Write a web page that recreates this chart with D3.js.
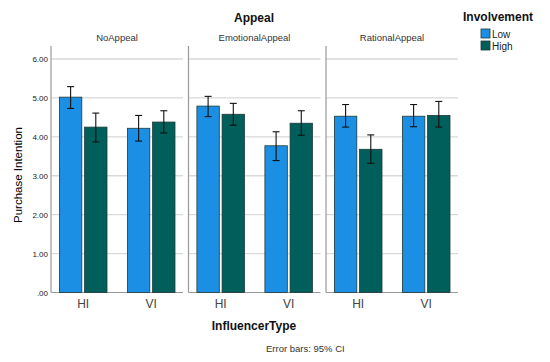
<!DOCTYPE html>
<html>
<head>
<meta charset="utf-8">
<script src="https://cdn.jsdelivr.net/npm/d3@7"></script>
<style>
  body { margin: 0; background: #fff; }
  svg { font-family: Arial, "Liberation Sans", sans-serif; }
</style>
</head>
<body>
<svg id="chart" width="550" height="362"></svg>
<script>
// data
var appeals = ["NoAppeal", "EmotionalAppeal", "RationalAppeal"];
var influencers = ["HI", "VI"];
var involvement = ["Low", "High"];
var colours = ["#1a8fe3", "#005f5a"];
var yTicks = [0, 1, 2, 3, 4, 5, 6];

// mean, ci low, ci high  -- ordered appeal > influencer > involvement
var means = [
  [[5.02, 4.25], [4.22, 4.38]],
  [[4.79, 4.58], [3.77, 4.35]],
  [[4.53, 3.68], [4.53, 4.55]]
];
var ciLow = [
  [[4.73, 3.87], [3.89, 4.10]],
  [[4.52, 4.30], [3.39, 4.04]],
  [[4.25, 3.32], [4.26, 4.25]]
];
var ciHigh = [
  [[5.29, 4.61], [4.55, 4.67]],
  [[5.04, 4.86], [4.13, 4.67]],
  [[4.83, 4.05], [4.83, 4.91]]
];

var svg = d3.select("#chart");

var panelLeft = [51, 188.5, 326];
var panelW = 132;
var y = d3.scaleLinear().domain([0, 6]).range([292.5, 59]);
var topY = 46;
var x0 = d3.scalePoint().domain(influencers).range([32.2, 100.2]);
var x1 = d3.scaleBand().domain(involvement).range([-23.8, 23.8]).paddingInner(0.11);

appeals.forEach(function (ap, i) {
  var g = svg.append("g").attr("transform", "translate(" + panelLeft[i] + ",0)");

  // gridlines
  g.selectAll("line.grid")
    .data(yTicks.slice(1))
    .join("line")
    .attr("x1", 0).attr("x2", panelW)
    .attr("y1", function (d) { return y(d); })
    .attr("y2", function (d) { return y(d); })
    .style("stroke", "#d9d9d9")
    .style("stroke-width", 1.3);

  // axis frame
  g.append("line").attr("x1", 0).attr("x2", 0).attr("y1", topY).attr("y2", y(0))
    .style("stroke", "#999").style("stroke-width", 1.2);
  g.append("line").attr("x1", 0).attr("x2", panelW).attr("y1", y(0)).attr("y2", y(0))
    .style("stroke", "#999").style("stroke-width", 1.2);

  influencers.forEach(function (inf, j) {
    var cx = x0(inf);
    var gx = g.append("g").attr("transform", "translate(" + cx + ",0)");
    var rows = involvement.map(function (inv, k) {
      return { inv: inv, k: k, m: means[i][j][k], lo: ciLow[i][j][k], hi: ciHigh[i][j][k] };
    });
    gx.selectAll("rect")
      .data(rows)
      .join("rect")
      .attr("x", function (d) { return x1(d.inv); })
      .attr("y", function (d) { return y(d.m); })
      .attr("width", x1.bandwidth())
      .attr("height", function (d) { return y(0) - y(d.m); })
      .style("fill", function (d) { return colours[d.k]; })
      .style("stroke", "#203a3a")
      .style("stroke-width", 0.8);

    var eb = gx.selectAll("g.err").data(rows).join("g")
      .attr("transform", function (d) { return "translate(" + (x1(d.inv) + x1.bandwidth() / 2) + ",0)"; });
    eb.append("line").attr("x1", 0).attr("x2", 0)
      .attr("y1", function (d) { return y(d.lo); })
      .attr("y2", function (d) { return y(d.hi); })
      .style("stroke", "#111").style("stroke-width", 1.1);
    eb.append("line").attr("x1", -3.5).attr("x2", 3.5)
      .attr("y1", function (d) { return y(d.lo); })
      .attr("y2", function (d) { return y(d.lo); })
      .style("stroke", "#111").style("stroke-width", 1.1);
    eb.append("line").attr("x1", -3.5).attr("x2", 3.5)
      .attr("y1", function (d) { return y(d.hi); })
      .attr("y2", function (d) { return y(d.hi); })
      .style("stroke", "#111").style("stroke-width", 1.1);

    g.append("text")
      .attr("x", cx).attr("y", 308)
      .attr("text-anchor", "middle")
      .style("font-size", "12px")
      .style("fill", "#444")
      .text(inf);
  });

  g.append("text")
    .attr("x", panelW / 2).attr("y", 41)
    .attr("text-anchor", "middle")
    .style("font-size", "9.5px")
    .style("fill", "#333")
    .text(ap);
});

// y axis labels
svg.selectAll("text.ytick")
  .data(yTicks)
  .join("text")
  .attr("x", 48)
  .attr("y", function (d) { return y(d) + 3; })
  .attr("text-anchor", "end")
  .style("font-size", "8px")
  .style("fill", "#222")
  .text(function (d) { return d === 0 ? ".00" : d3.format(".2f")(d); });

svg.append("text")
  .attr("transform", "translate(22,175) rotate(-90)")
  .attr("text-anchor", "middle")
  .style("font-size", "11.5px")
  .style("fill", "#000")
  .text("Purchase Intention");

svg.append("text")
  .attr("x", 254).attr("y", 22)
  .attr("text-anchor", "middle")
  .style("font-size", "12px")
  .style("font-weight", "bold")
  .style("fill", "#111")
  .text("Appeal");

svg.append("text")
  .attr("x", 254).attr("y", 330)
  .attr("text-anchor", "middle")
  .style("font-size", "12px")
  .style("font-weight", "bold")
  .style("fill", "#111")
  .text("InfluencerType");

svg.append("text")
  .attr("x", 266).attr("y", 352)
  .style("font-size", "9.5px")
  .style("fill", "#333")
  .text("Error bars: 95% CI");

// legend
svg.append("text")
  .attr("x", 463).attr("y", 21)
  .style("font-size", "12px")
  .style("font-weight", "bold")
  .style("fill", "#111")
  .text("Involvement");

var leg = svg.selectAll("g.leg")
  .data(involvement)
  .join("g")
  .attr("transform", function (d, k) { return "translate(481," + (29 + k * 12) + ")"; });
leg.append("rect")
  .attr("width", 9).attr("height", 9)
  .style("fill", function (d, k) { return colours[k]; })
  .style("stroke", "#203a3a")
  .style("stroke-width", 0.8);
leg.append("text")
  .attr("x", 11).attr("y", 8.5)
  .style("font-size", "10px")
  .style("fill", "#222")
  .text(function (d) { return d; });
</script>
</body>
</html>
